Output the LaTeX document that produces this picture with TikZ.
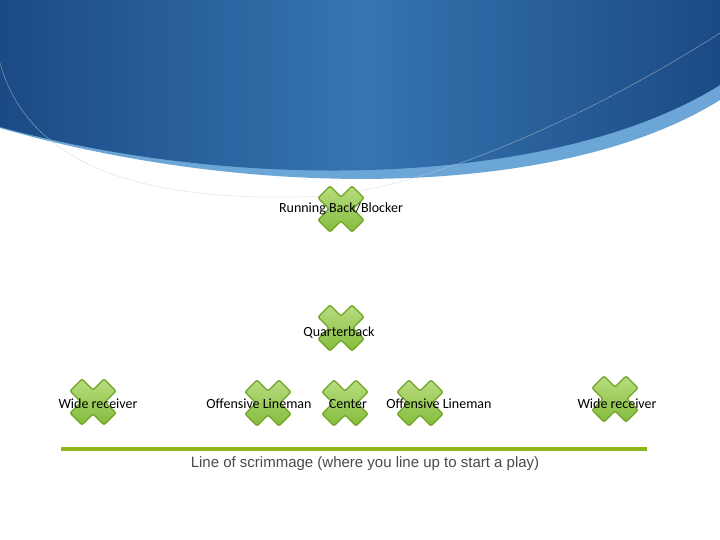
\documentclass[tikz,border=0pt]{standalone}
\usepackage{fontspec}
\setmainfont{Carlito}
\newfontfamily\capfont{Liberation Sans}
\usetikzlibrary{positioning}
\definecolor{headdark}{HTML}{1B4A86}
\definecolor{headmid}{HTML}{3675B0}
\definecolor{headband}{HTML}{6BA6D6}
\definecolor{xfilltop}{HTML}{B8DD80}
\definecolor{xfillbot}{HTML}{84BC3C}
\definecolor{xedge}{HTML}{6FA324}
\definecolor{losgreen}{HTML}{8DB51E}
\definecolor{capgray}{HTML}{4A4A4A}

\begin{document}
\begin{tikzpicture}[x=1pt,y=-1pt]
    \tikzstyle{player}=[font=\fontsize{14}{16}\selectfont, inner sep=0pt, anchor=base]
    \tikzstyle{caption}=[font=\capfont\fontsize{15}{17}\selectfont, text=capgray, inner sep=0pt, anchor=base]
    \tikzstyle{los}=[line width=4pt, losgreen]
    \tikzset{xmark/.pic={
        \draw[xedge, line width=1.3pt, rounded corners=2pt, top color=xfilltop, bottom color=xfillbot]
          (23,11) -- (11,23) -- (0,12) -- (-11,23) -- (-23,11) -- (-12,0)
          -- (-23,-11) -- (-11,-23) -- (0,-12) -- (11,-23) -- (23,-11) -- (12,0) -- cycle;
    }}

    \useasboundingbox (0,0) rectangle (720,540);

    % header wave
    \fill[headband] (0,0) -- (720,0) -- (720,100) .. controls (560,200) and (250,200) .. (0,128) -- cycle;
    \shade[left color=headdark, right color=headdark, middle color=headmid]
      (0,0) -- (720,0) -- (720,85) .. controls (560,185) and (250,195) .. (0,127) -- cycle;
    \draw[white!80!black, opacity=0.7] (0,63) .. controls (30,170) and (150,200) .. (298,197)
      .. controls (420,197) and (600,110) .. (720,33);

    % players
    \pic at (341,209) {xmark};
    \pic at (341,328) {xmark};
    \pic at (93,402) {xmark};
    \pic at (268,403) {xmark};
    \pic at (345,403) {xmark};
    \pic at (420,403) {xmark};
    \pic at (615,399) {xmark};

    \node[player] (rb) at (341,213) {Running Back/Blocker};
    \node[player] (qb) at (339,336) {Quarterback};
    \node[player] (wrL) at (98,408) {Wide receiver};
    \node[player] (olL) at (259,408) {Offensive Lineman};
    \node[player] (ctr) at (348,408) {Center};
    \node[player] (olR) at (439,408) {Offensive Lineman};
    \node[player] (wrR) at (617,408) {Wide receiver};

    % line of scrimmage
    \coordinate (losL) at (61,449);
    \coordinate (losR) at (647,449);
    \draw[los] (losL) -- (losR);
    \node[caption] (cap) at (365,467) {Line of scrimmage (where you line up to start a play)};

\end{tikzpicture}
\end{document}
